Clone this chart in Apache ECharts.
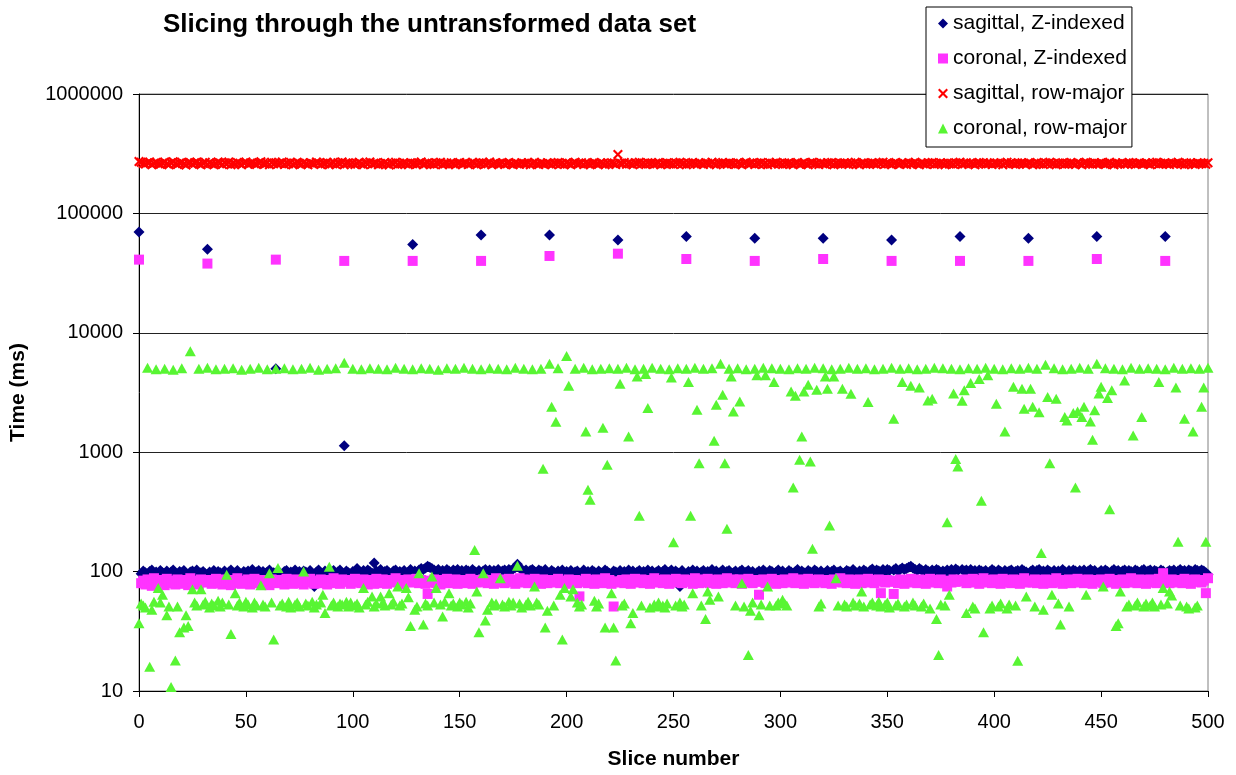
<!DOCTYPE html>
<html><head><meta charset="utf-8">
<script src="https://cdn.jsdelivr.net/npm/echarts@6/dist/echarts.min.js"></script>
<style>html,body{margin:0;padding:0;background:#fff}#c{width:1236px;height:775px}</style>
</head><body><div id="c"></div>
<script>
const chartTitle = 'Slicing through the untransformed data set';
const seriesNames = ['sagittal, Z-indexed', 'coronal, Z-indexed', 'sagittal, row-major', 'coronal, row-major'];
const xAxisName = 'Slice number';
const yAxisName = 'Time (ms)';

// values indexed by slice number 0..500 (rows of 8 slices)
const sagittalZ = [
/*0*/ 70000,96,101,98,94,100,103,97,
/*8*/ 99,95,102,98,96,101,94,99,
/*16*/ 103,97,95,100,98,102,96,94,
/*24*/ 99,101,97,103,95,98,100,96,
/*32*/ 50000,99,94,102,97,100,98,95,
/*40*/ 101,96,99,103,94,98,102,97,
/*48*/ 95,100,98,101,96,104,97,99,
/*56*/ 102,95,100,97,99,103,96,98,
/*64*/ 5000,101,97,94,100,102,96,99,
/*72*/ 98,103,95,100,97,101,99,96,
/*80*/ 102,94,75,99,103,97,95,101,
/*88*/ 98,100,96,102,94,99,103,97,
/*96*/ 1130,101,98,95,100,97,106,99,
/*104*/ 96,102,98,103,100,97,118,101,
/*112*/ 99,104,96,100,102,98,95,101,
/*120*/ 103,97,100,98,102,96,99,104,
/*128*/ 55000,101,98,103,106,104,107,111,
/*136*/ 109,106,103,100,104,98,102,99,
/*144*/ 104,101,97,103,100,104,98,102,
/*152*/ 99,103,101,96,104,100,98,102,
/*160*/ 66000,101,104,99,103,98,102,100,
/*168*/ 104,97,101,103,99,104,102,105,
/*176*/ 108,115,107,104,101,103,99,102,
/*184*/ 104,100,98,103,101,99,104,97,
/*192*/ 66000,102,99,95,101,98,103,96,
/*200*/ 100,97,102,94,99,101,96,98,
/*208*/ 103,95,100,97,102,99,94,101,
/*216*/ 98,96,103,100,97,95,101,99,
/*224*/ 60000,102,97,100,95,103,98,101,
/*232*/ 96,99,102,94,100,97,103,98,
/*240*/ 101,95,99,102,96,100,104,97,
/*248*/ 99,103,95,101,98,75,102,96,
/*256*/ 64000,100,98,103,95,101,97,99,
/*264*/ 102,96,100,98,104,95,101,97,
/*272*/ 99,103,97,100,102,96,98,101,
/*280*/ 95,100,103,97,99,102,96,100,
/*288*/ 62000,98,101,95,103,99,97,102,
/*296*/ 100,96,99,103,97,101,95,98,
/*304*/ 102,99,97,100,104,96,101,98,
/*312*/ 95,102,99,97,103,100,96,101,
/*320*/ 62000,98,102,96,100,103,97,99,
/*328*/ 101,95,98,102,100,97,104,99,
/*336*/ 96,101,98,103,100,95,102,105,
/*344*/ 99,103,101,97,104,100,104,102,
/*352*/ 60000,103,106,101,104,107,104,106,
/*360*/ 109,111,107,104,102,106,103,100,
/*368*/ 104,101,99,103,100,104,102,98,
/*376*/ 101,99,103,97,104,100,105,102,
/*384*/ 64000,104,101,103,99,104,100,102,
/*392*/ 98,103,101,99,102,97,100,104,
/*400*/ 101,98,103,100,96,102,99,101,
/*408*/ 103,97,100,102,98,104,101,99,
/*416*/ 62000,100,103,98,102,104,99,101,
/*424*/ 97,103,100,98,102,96,101,99,
/*432*/ 104,100,97,102,99,103,101,98,
/*440*/ 102,99,103,97,101,104,100,102,
/*448*/ 64000,98,102,99,103,100,97,101,
/*456*/ 104,100,102,98,101,103,99,102,
/*464*/ 100,97,103,101,98,102,104,99,
/*472*/ 101,103,98,102,100,97,103,101,
/*480*/ 64000,99,102,100,103,98,101,104,
/*488*/ 100,102,98,103,101,99,104,102,
/*496*/ 100,103,101,98,94
];

const coronalZ = [
/*0*/ 41000,80,84,78,86,82,76,88,
/*8*/ 83,79,85,81,77,87,82,80,
/*16*/ 84,78,86,81,79,85,83,77,
/*24*/ 88,82,80,84,78,86,81,83,
/*32*/ 38000,85,79,82,87,80,84,78,
/*40*/ 86,81,83,77,85,80,88,82,
/*48*/ 79,84,81,86,78,83,87,80,
/*56*/ 82,85,79,84,81,77,86,83,
/*64*/ 41000,80,85,82,78,87,81,84,
/*72*/ 79,86,83,80,84,78,85,82,
/*80*/ 87,81,79,84,82,86,80,83,
/*88*/ 78,85,82,88,80,84,79,86,
/*96*/ 40000,82,85,79,83,87,81,84,
/*104*/ 80,86,82,78,85,83,79,87,
/*112*/ 84,80,86,82,79,85,81,83,
/*120*/ 88,82,80,85,78,84,86,81,
/*128*/ 40000,83,87,80,85,82,79,65,
/*136*/ 84,81,86,80,83,78,85,82,
/*144*/ 87,80,84,81,86,79,83,85,
/*152*/ 80,84,82,87,79,85,81,83,
/*160*/ 40000,86,82,80,85,83,79,88,
/*168*/ 81,84,86,80,83,87,82,85,
/*176*/ 79,84,88,81,86,82,80,85,
/*184*/ 83,87,81,84,79,86,82,80,
/*192*/ 44000,85,81,83,87,80,84,82,
/*200*/ 79,86,83,81,85,80,62,84,
/*208*/ 82,87,80,85,83,79,86,81,
/*216*/ 84,80,88,82,85,79,51,83,
/*224*/ 46000,81,85,80,86,82,79,84,
/*232*/ 87,81,83,86,80,85,82,79,
/*240*/ 84,88,81,85,83,80,86,82,
/*248*/ 79,85,83,87,81,84,80,86,
/*256*/ 41500,82,85,79,88,83,80,86,
/*264*/ 81,84,87,80,85,82,79,86,
/*272*/ 83,80,85,88,81,84,86,80,
/*280*/ 82,86,79,84,81,87,83,80,
/*288*/ 40000,85,64,82,86,80,84,81,
/*296*/ 87,83,79,85,82,80,86,84,
/*304*/ 81,85,88,80,83,86,82,79,
/*312*/ 84,87,81,85,80,83,86,82,
/*320*/ 41500,80,85,83,79,86,82,84,
/*328*/ 88,81,84,80,86,82,85,79,
/*336*/ 83,86,80,84,81,87,82,85,
/*344*/ 80,84,86,66,83,81,85,82,
/*352*/ 40000,65,84,80,86,82,79,85,
/*360*/ 83,87,81,84,80,86,82,85,
/*368*/ 79,84,87,81,85,82,80,86,
/*376*/ 83,80,75,84,81,86,82,85,
/*384*/ 40000,83,86,80,84,81,87,82,
/*392*/ 85,79,84,88,81,85,83,80,
/*400*/ 86,82,84,79,87,81,85,83,
/*408*/ 80,86,82,85,79,84,88,81,
/*416*/ 40000,84,81,86,80,85,83,79,
/*424*/ 86,82,85,80,84,88,81,83,
/*432*/ 79,85,82,86,80,84,83,87,
/*440*/ 81,85,80,84,86,82,79,85,
/*448*/ 41500,82,86,80,84,81,87,83,
/*456*/ 85,79,84,82,86,80,85,83,
/*464*/ 88,81,84,80,86,82,85,79,
/*472*/ 83,86,81,84,80,87,82,97,
/*480*/ 40000,84,80,86,82,85,81,84,
/*488*/ 80,87,83,85,79,84,86,82,
/*496*/ 85,81,84,66,88
];

// rows of 10 slices
const sagittalRow = [
/*0*/ 272e3,268e3,262e3,259e3,265e3,270e3,256e3,263e3,267e3,260e3,
/*10*/ 258e3,264e3,269e3,261e3,255e3,266e3,271e3,262e3,257e3,264e3,
/*20*/ 268e3,260e3,254e3,263e3,267e3,259e3,265e3,270e3,261e3,256e3,
/*30*/ 263e3,268e3,258e3,265e3,260e3,255e3,262e3,269e3,264e3,257e3,
/*40*/ 266e3,261e3,270e3,256e3,263e3,259e3,267e3,262e3,255e3,264e3,
/*50*/ 269e3,258e3,263e3,266e3,260e3,257e3,265e3,271e3,262e3,259e3,
/*60*/ 264e3,256e3,268e3,261e3,266e3,259e3,263e3,270e3,257e3,264e3,
/*70*/ 260e3,267e3,255e3,262e3,268e3,263e3,258e3,265e3,261e3,256e3,
/*80*/ 266e3,262e3,259e3,269e3,264e3,257e3,263e3,260e3,267e3,255e3,
/*90*/ 262e3,268e3,258e3,265e3,261e3,270e3,256e3,263e3,266e3,259e3,
/*100*/ 264e3,257e3,262e3,268e3,260e3,255e3,265e3,261e3,269e3,258e3,
/*110*/ 263e3,266e3,256e3,262e3,259e3,267e3,261e3,254e3,264e3,260e3,
/*120*/ 268e3,257e3,263e3,259e3,265e3,262e3,256e3,266e3,260e3,263e3,
/*130*/ 258e3,264e3,269e3,255e3,261e3,266e3,259e3,263e3,257e3,265e3,
/*140*/ 262e3,268e3,256e3,260e3,264e3,258e3,266e3,261e3,255e3,263e3,
/*150*/ 267e3,259e3,262e3,265e3,257e3,261e3,268e3,263e3,256e3,264e3,
/*160*/ 260e3,266e3,258e3,263e3,269e3,256e3,262e3,265e3,259e3,261e3,
/*170*/ 265e3,257e3,263e3,267e3,260e3,255e3,264e3,261e3,258e3,266e3,
/*180*/ 262e3,259e3,265e3,256e3,263e3,268e3,260e3,257e3,264e3,261e3,
/*190*/ 258e3,266e3,262e3,255e3,264e3,260e3,267e3,259e3,263e3,257e3,
/*200*/ 265e3,261e3,256e3,263e3,268e3,259e3,262e3,266e3,257e3,264e3,
/*210*/ 260e3,255e3,263e3,267e3,261e3,258e3,265e3,262e3,256e3,264e3,
/*220*/ 259e3,266e3,262e3,257e3,312e3,263e3,260e3,267e3,258e3,264e3,
/*230*/ 261e3,256e3,265e3,262e3,268e3,259e3,263e3,257e3,266e3,260e3,
/*240*/ 264e3,258e3,262e3,267e3,255e3,263e3,260e3,266e3,259e3,262e3,
/*250*/ 257e3,265e3,261e3,268e3,259e3,263e3,256e3,264e3,260e3,267e3,
/*260*/ 262e3,258e3,265e3,260e3,257e3,266e3,263e3,259e3,268e3,261e3,
/*270*/ 256e3,264e3,260e3,267e3,262e3,258e3,265e3,261e3,263e3,257e3,
/*280*/ 266e3,260e3,255e3,263e3,268e3,259e3,262e3,265e3,257e3,264e3,
/*290*/ 261e3,267e3,258e3,263e3,256e3,265e3,260e3,262e3,268e3,259e3,
/*300*/ 263e3,257e3,264e3,260e3,266e3,261e3,255e3,263e3,267e3,258e3,
/*310*/ 262e3,265e3,259e3,256e3,264e3,268e3,260e3,263e3,257e3,266e3,
/*320*/ 261e3,258e3,265e3,262e3,267e3,256e3,263e3,259e3,264e3,260e3,
/*330*/ 266e3,262e3,257e3,264e3,259e3,268e3,261e3,255e3,263e3,265e3,
/*340*/ 258e3,263e3,260e3,266e3,262e3,257e3,265e3,261e3,268e3,259e3,
/*350*/ 264e3,260e3,256e3,263e3,267e3,261e3,258e3,265e3,262e3,257e3,
/*360*/ 266e3,259e3,263e3,268e3,260e3,255e3,264e3,262e3,258e3,265e3,
/*370*/ 261e3,267e3,257e3,263e3,260e3,266e3,262e3,256e3,264e3,259e3,
/*380*/ 263e3,258e3,265e3,261e3,268e3,257e3,262e3,266e3,259e3,264e3,
/*390*/ 260e3,256e3,263e3,267e3,261e3,265e3,258e3,262e3,264e3,257e3,
/*400*/ 266e3,262e3,259e3,264e3,256e3,263e3,268e3,260e3,265e3,261e3,
/*410*/ 257e3,264e3,260e3,266e3,262e3,258e3,265e3,263e3,256e3,261e3,
/*420*/ 267e3,259e3,263e3,257e3,265e3,261e3,268e3,260e3,262e3,256e3,
/*430*/ 264e3,261e3,266e3,258e3,263e3,259e3,267e3,262e3,257e3,265e3,
/*440*/ 260e3,256e3,264e3,268e3,261e3,263e3,258e3,265e3,259e3,262e3,
/*450*/ 266e3,260e3,257e3,263e3,268e3,262e3,256e3,264e3,261e3,259e3,
/*460*/ 265e3,258e3,262e3,267e3,260e3,264e3,257e3,263e3,266e3,261e3,
/*470*/ 259e3,264e3,261e3,256e3,265e3,262e3,268e3,258e3,263e3,260e3,
/*480*/ 266e3,261e3,257e3,264e3,259e3,263e3,268e3,260e3,262e3,256e3,
/*490*/ 264e3,259e3,265e3,261e3,257e3,266e3,262e3,260e3,263e3,258e3,
/*500*/ 265e3
];

// rows of 8 slices
const coronalRow = [
/*0*/ 37,54,52,50,5100,16,48,56,
/*8*/ 4950,73,55,64,5000,43,51,10.8,
/*16*/ 4900,18,51,31,5050,34,43,35,
/*24*/ 7000,71,55,52,5000,71,53,56,
/*32*/ 5100,50,54,52,4950,57,51,55,
/*40*/ 5000,94,53,30,5050,66,52,55,
/*48*/ 4900,51,56,53,5000,50,55,52,
/*56*/ 5100,77,53,51,4950,97,55,27,
/*64*/ 5000,107,52,54,5050,51,56,50,
/*72*/ 4950,53,55,51,5000,100,54,52,
/*80*/ 5100,56,50,53,4900,55,64,45,
/*88*/ 5000,110,52,55,5050,51,54,53,
/*96*/ 5600,56,51,55,5000,52,54,50,
/*104*/ 4950,73,53,56,5050,62,51,54,
/*112*/ 5000,62,55,52,4950,66,53,56,
/*120*/ 5100,75,52,54,5000,73,61,35,
/*128*/ 4950,48,51,97,5050,36,54,52,
/*136*/ 5000,91,55,73,4900,53,42,56,
/*144*/ 5050,66,52,54,5000,51,55,53,
/*152*/ 5100,56,50,54,5000,152,68,31,
/*160*/ 4950,97,39,48,5050,55,52,54,
/*168*/ 5000,88,53,51,4950,56,52,55,
/*176*/ 5100,112,54,50,5000,53,56,52,
/*184*/ 4950,75,55,53,5000,726,34,47,
/*192*/ 5500,2400,52,1800,5050,64,27,73,
/*200*/ 6400,3600,62,71,5000,55,51,53,
/*208*/ 5100,1490,484,399,4950,57,51,54,
/*216*/ 5000,1600,34,784,5050,66,34,18,
/*224*/ 5000,3740,52,54,5100,1355,37,45,
/*232*/ 4950,4310,294,52,5000,4510,2340,50,
/*240*/ 5100,53,51,55,5000,52,50,54,
/*248*/ 4950,4230,176,52,5050,55,51,53,
/*256*/ 5000,3870,294,66,5100,2270,810,52,
/*264*/ 5000,40,68,58,5050,1250,2500,62,
/*272*/ 5500,3030,810,228,5000,4310,2190,52,
/*280*/ 5050,2660,80,51,4950,20,47,55,
/*288*/ 5000,4400,43,53,5100,4400,75,52,
/*296*/ 5050,3870,52,55,5000,58,54,52,
/*304*/ 4950,3230,506,2970,5050,863,1355,3230,
/*312*/ 5000,3670,836,155,5100,3330,51,54,
/*320*/ 5050,4310,3400,243,4950,4310,88,52,
/*328*/ 5000,3400,53,51,5100,3090,55,52,
/*336*/ 5000,54,68,51,5050,2630,53,55,
/*344*/ 4950,52,56,51,5000,53,55,50,
/*352*/ 5100,1905,52,54,5000,3870,51,53,
/*360*/ 5050,3600,55,52,4950,3480,51,54,
/*368*/ 5000,2710,49,2800,5100,40,20,53,
/*376*/ 5050,52,259,64,5000,3100,875,760,
/*384*/ 4950,2700,3300,45,5050,3800,51,49,
/*392*/ 5000,4100,392,31,5100,4400,49,52,
/*400*/ 5000,2550,51,54,4950,1490,49,53,
/*408*/ 5050,3530,52,17.9,5000,3400,2310,62,
/*416*/ 5100,3400,2400,51,5000,2160,143,48,
/*424*/ 5400,2900,810,64,5050,2800,54,36,
/*432*/ 4950,1970,1840,51,5000,2130,506,2190,
/*440*/ 5100,1970,2400,64,5000,1810,1270,2250,
/*448*/ 5500,3100,3530,75,5050,2840,333,3300,
/*456*/ 5000,35,37,68,4950,3990,51,53,
/*464*/ 5100,1380,52,55,5000,1970,51,54,
/*472*/ 5050,52,55,51,5000,3870,53,73,
/*480*/ 4950,54,68,63,5100,3480,178,52,
/*488*/ 5000,1905,51,49,5050,1490,50,52,
/*496*/ 5000,2400,3480,178,5100
];

const FONT = "'Liberation Sans', Arial, sans-serif";
const X_SYMBOL = 'path://M0,1.5L1.5,0L5,3.5L8.5,0L10,1.5L6.5,5L10,8.5L8.5,10L5,6.5L1.5,10L0,8.5L3.5,5Z';
const toPairs = arr => arr.map((v, i) => [i, v]).filter(p => p[1] != null);

const chart = echarts.init(document.getElementById('c'), null, {renderer: 'canvas'});
chart.setOption({
  animation: false,
  backgroundColor: '#ffffff',
  title: {
    text: chartTitle, left: 158, top: 7,
    textStyle: {fontFamily: FONT, fontSize: 26, fontWeight: 'bold', color: '#000'}
  },
  legend: {
    orient: 'vertical', left: 926, top: 7,
    padding: [6, 5, 8, 12], itemGap: 14, itemWidth: 10, itemHeight: 10,
    backgroundColor: '#ffffff', borderColor: '#000', borderWidth: 1,
    textStyle: {fontFamily: FONT, fontSize: 21, color: '#000'},
    data: seriesNames
  },
  grid: {left: 139, right: 28, top: 94, bottom: 84, containLabel: false, outerBoundsMode: 'none',
         show: true, borderColor: '#808080', borderWidth: 1, backgroundColor: 'transparent'},
  xAxis: {
    type: 'value', min: 0, max: 500, interval: 50,
    name: xAxisName, nameLocation: 'middle', nameGap: 58,
    nameTextStyle: {fontFamily: FONT, fontSize: 21, fontWeight: 'bold', color: '#000'},
    axisLine: {show: true, onZero: false, lineStyle: {color: '#000', width: 1}},
    axisTick: {show: true, inside: false, length: 6, lineStyle: {color: '#000'}},
    axisLabel: {fontFamily: FONT, fontSize: 20, color: '#000', margin: 21},
    splitLine: {show: false}
  },
  yAxis: {
    type: 'log', logBase: 10, min: 10, max: 1000000,
    name: yAxisName, nameLocation: 'middle', nameGap: 110,
    nameTextStyle: {fontFamily: FONT, fontSize: 21, fontWeight: 'bold', color: '#000'},
    axisLine: {show: true, lineStyle: {color: '#000', width: 1}},
    axisTick: {show: true, inside: false, length: 6, lineStyle: {color: '#000'}},
    axisLabel: {fontFamily: FONT, fontSize: 20, color: '#000', margin: 16, formatter: v => String(Math.round(v))},
    splitLine: {show: true, lineStyle: {color: '#222', width: 1}},
    minorTick: {show: false}, minorSplitLine: {show: false}
  },
  series: [
    {name: seriesNames[0], type: 'scatter', symbol: 'diamond', symbolSize: 11,
     itemStyle: {color: '#000080', opacity: 1}, data: toPairs(sagittalZ), z: 2},
    {name: seriesNames[1], type: 'scatter', symbol: 'rect', symbolSize: 10,
     itemStyle: {color: '#FF33FF', opacity: 1}, data: toPairs(coronalZ), z: 3},
    {name: seriesNames[2], type: 'scatter', symbol: X_SYMBOL, symbolSize: 10,
     itemStyle: {color: '#FF0000', opacity: 1}, data: toPairs(sagittalRow), z: 4},
    {name: seriesNames[3], type: 'scatter', symbol: 'triangle', symbolSize: [11, 10],
     itemStyle: {color: '#58F533', opacity: 1}, data: toPairs(coronalRow), z: 5}
  ]
});
</script></body></html>
